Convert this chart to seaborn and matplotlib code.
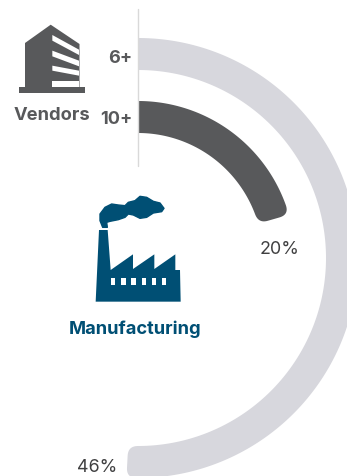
import numpy as np
import matplotlib
matplotlib.use("Agg")
import matplotlib.pyplot as plt
from matplotlib.patches import Polygon, Rectangle
import seaborn as sns

# --- data ---
share_labels = ["46%", "20%"]
vendor_labels = ["6+", "10+"]
sweep_degrees = [183.0, 74.0]
band_outer = [220.0, 157.0]
band_inner = [188.0, 125.0]
band_colors = ["#d7d7dd", "#58595b"]
header_left = "Vendors"
header_center = "Manufacturing"

sns.set_theme(style="white")
plt.rcParams["font.family"] = ["Inter", "Liberation Sans", "DejaVu Sans"]

W, H = 347, 477
CX, CY = 138, 259
RMAX = 222
fig = plt.figure(figsize=(W / 100, H / 100), dpi=100, facecolor="white")

# polar axes: the arc centre sits at a fixed spot, radius in pixels
pol = fig.add_axes([(CX - RMAX) / W, (H - CY - RMAX) / H, 2 * RMAX / W, 2 * RMAX / H],
                   projection="polar")
pol.set_theta_zero_location("N")
pol.set_theta_direction(-1)
pol.set_rlim(0, RMAX)
pol.set_axis_off()


def band(sweep, r0, r1, corner=10.0):
    end = np.radians(sweep)
    d1 = corner / r1
    d0 = corner / r0
    t = np.linspace(0, 1, 14)
    th_out = np.linspace(0, end - d1, 200)
    r_out = np.full_like(th_out, r1)
    # rounded corners, quadratic in (theta, r)
    th_c1 = (1 - t) ** 2 * (end - d1) + 2 * t * (1 - t) * end + t ** 2 * end
    r_c1 = (1 - t) ** 2 * r1 + 2 * t * (1 - t) * r1 + t ** 2 * (r1 - corner)
    th_c0 = (1 - t) ** 2 * end + 2 * t * (1 - t) * end + t ** 2 * (end - d0)
    r_c0 = (1 - t) ** 2 * (r0 + corner) + 2 * t * (1 - t) * r0 + t ** 2 * r0
    th_in = np.linspace(end - d0, 0, 200)
    r_in = np.full_like(th_in, r0)
    return (np.concatenate([th_out, th_c1, th_c0, th_in]),
            np.concatenate([r_out, r_c1, r_c0, r_in]))


for sweep, r0, r1, col in zip(sweep_degrees, band_inner, band_outer, band_colors):
    th, r = band(sweep, r0, r1)
    pol.fill(th, r, color=col, lw=0, clip_on=False)

# overlay in pixel coordinates for icons and text
ov = fig.add_axes([0, 0, 1, 1], facecolor="none")
ov.set_xlim(0, W)
ov.set_ylim(H, 0)
ov.set_axis_off()

ov.plot([138.5, 138.5], [10, 167], color="#d9d9d9", lw=1)

GREY = "#58595b"
BLUE = "#004f74"

# building icon
ov.add_patch(Rectangle((19, 88), 66.5, 6, color=GREY, lw=0))
ov.add_patch(Polygon([(25, 44), (50.7, 25.7), (79.5, 45), (79.5, 88), (25, 88)], color=GREY, lw=0))
bx = lambda x: 15 + x / 3
by = lambda y: 20 + y / 3
for y0, y1, y2, y3 in [(48, 92, 108, 65), (95, 125, 142, 112), (140, 155, 170, 155), (187, 187, 204, 204)]:
    ov.add_patch(Polygon([(bx(112), by(y0)), (bx(192), by(y1)), (bx(192), by(y2)), (bx(112), by(y3))],
                         color="white", lw=0))

# factory icon
fx = lambda x: 60 + x / 3
fy = lambda y: 190 + y / 3
factory = [(107, 338), (117, 123), (143, 123), (152, 243), (219, 196), (219, 240), (283, 196), (283, 240),
           (346, 196), (346, 243), (360, 243), (362, 338)]
ov.add_patch(Polygon([(fx(a), fy(b)) for a, b in factory], color=BLUE, lw=0))
for x in [153, 184, 214, 245, 275, 305]:
    ov.add_patch(Rectangle((fx(x), fy(268)), 13 / 3, 20 / 3, color="white", lw=0))
smoke = [(38, 115), (30, 95), (30, 75), (45, 55), (65, 45), (85, 48), (105, 50), (115, 40), (135, 35),
         (150, 22), (170, 25), (190, 37), (210, 42), (222, 58), (215, 68), (190, 72), (170, 85), (150, 88),
         (130, 78), (115, 75), (105, 85), (85, 92), (60, 97), (50, 100), (52, 115)]
ov.add_patch(Polygon([(90 + a / 3, 190 + b / 3) for a, b in smoke], facecolor=BLUE, edgecolor=BLUE,
                     lw=1.0, joinstyle="round"))

# text
ov.text(14, 115.5, header_left, color=GREY, fontsize=13.2, fontweight="bold", va="center", ha="left")
ov.text(69, 329, header_center, color=BLUE, fontsize=13.2, fontweight="bold", va="center", ha="left")
ov.text(132, 58.5, vendor_labels[0], color=GREY, fontsize=13, fontweight="bold", va="center", ha="right")
ov.text(132, 119, vendor_labels[1], color=GREY, fontsize=13, fontweight="bold", va="center", ha="right")
ov.text(97.5, 467.5, share_labels[0], color="#404041", fontsize=12.9, va="center", ha="center")
ov.text(279.5, 249.5, share_labels[1], color="#404041", fontsize=12.9, va="center", ha="center")

fig.savefig("out.png", dpi=100, facecolor="white")
